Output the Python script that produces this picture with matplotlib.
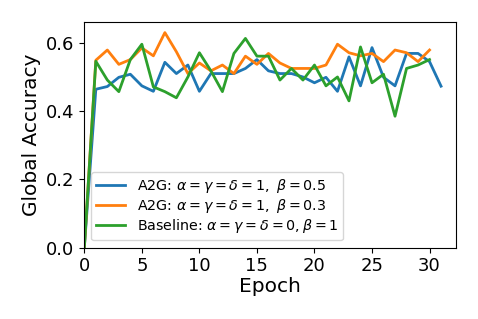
import matplotlib
matplotlib.use('Agg')
import matplotlib.pyplot as plt

# global accuracy per epoch
epochs_a = list(range(32))
epochs_b = list(range(31))

acc_b05 = [0.0, 0.464, 0.472, 0.499, 0.508, 0.474, 0.458, 0.543, 0.510, 0.535,
           0.458, 0.510, 0.510, 0.510, 0.525, 0.551, 0.518, 0.510, 0.510, 0.500,
           0.483, 0.499, 0.458, 0.559, 0.474, 0.586, 0.499, 0.474, 0.569, 0.569,
           0.545, 0.473]
acc_b03 = [0.0, 0.549, 0.579, 0.537, 0.551, 0.585, 0.562, 0.630, 0.574, 0.510,
           0.541, 0.518, 0.535, 0.510, 0.561, 0.537, 0.569, 0.541, 0.525, 0.525,
           0.525, 0.535, 0.596, 0.571, 0.562, 0.569, 0.545, 0.579, 0.571, 0.545,
           0.579]
acc_base = [0.0, 0.546, 0.491, 0.457, 0.551, 0.596, 0.471, 0.457, 0.439, 0.500,
            0.571, 0.518, 0.457, 0.569, 0.613, 0.561, 0.561, 0.491, 0.525, 0.491,
            0.535, 0.474, 0.500, 0.430, 0.588, 0.483, 0.508, 0.385, 0.525, 0.535,
            0.551]

labels = [r'A2G: $\alpha=\gamma=\delta=1,\ \beta=0.5$',
          r'A2G: $\alpha=\gamma=\delta=1,\ \beta=0.3$',
          r'Baseline: $\alpha=\gamma=\delta=0, \beta=1$']

fig = plt.figure(figsize=(4.78, 3.19), dpi=100)
ax = fig.add_axes([0.1764, 0.2238, 0.7776, 0.7082])

ax.plot(epochs_a, acc_b05, color='#1f77b4', linewidth=2, label=labels[0])
ax.plot(epochs_b, acc_b03, color='#ff7f0e', linewidth=2, label=labels[1])
ax.plot(epochs_b, acc_base, color='#2ca02c', linewidth=2, label=labels[2])

ax.set_xlim(0, 32.3)
ax.set_ylim(0, 0.662)
ax.set_xticks([0, 5, 10, 15, 20, 25, 30])
ax.set_yticks([0.0, 0.2, 0.4, 0.6])
ax.tick_params(labelsize=13)
ax.set_xlabel('Epoch', fontsize=14.5, labelpad=1)
ax.set_ylabel('Global Accuracy', fontsize=14.5)
ax.legend(loc='lower left', fontsize=10.3, labelspacing=0.15, borderpad=0.35)

fig.savefig('out.png', dpi=100)
